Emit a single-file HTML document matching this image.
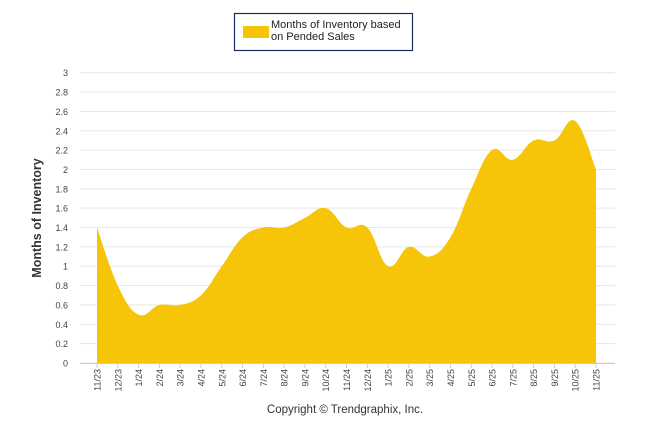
<!DOCTYPE html>
<html><head><meta charset="utf-8"><style>
body{margin:0;background:#fff;font-family:"Liberation Sans",sans-serif}
svg{display:block}
</style></head><body>
<svg id="c" width="646" height="434">
<g>
<rect x="234.5" y="13.5" width="178" height="37" fill="#fff" stroke="#1a2a5a" stroke-width="1.2"/>
<rect x="243" y="26" width="26" height="12" fill="#f6c509"/>
<text x="271" y="28" font-size="11" fill="#222">Months of Inventory based</text>
<text x="271" y="40" font-size="11" fill="#222">on Pended Sales</text>
</g>
<g id="grid"></g>
<path id="area" fill="#f6c509"/>
<g id="ticks"></g>
<text x="41" y="218" transform="rotate(-90 41 218)" text-anchor="middle" font-size="12.5" font-weight="bold" fill="#333">Months of Inventory</text>
<text x="345" y="413" text-anchor="middle" font-size="11.5" fill="#333">Copyright © Trendgraphix, Inc.</text>
</svg>
<script>
const categories=["11/23","12/23","1/24","2/24","3/24","4/24","5/24","6/24","7/24","8/24","9/24","10/24","11/24","12/24","1/25","2/25","3/25","4/25","5/25","6/25","7/25","8/25","9/25","10/25","11/25"];
const values=[1.4,0.8,0.5,0.6,0.6,0.7,1.0,1.3,1.4,1.4,1.5,1.6,1.4,1.4,1.0,1.2,1.1,1.3,1.8,2.2,2.1,2.3,2.3,2.5,2.0];
const yTicks=[0,0.2,0.4,0.6,0.8,1,1.2,1.4,1.6,1.8,2,2.2,2.4,2.6,2.8,3];
const NS="http://www.w3.org/2000/svg";
const x0=97,x1=596,y0=363,y1=72.7,yMax=3;
const X=i=>x0+i*(x1-x0)/(categories.length-1);
const Y=v=>y0-(v/yMax)*(y0-y1);
const grid=document.getElementById('grid'),ticks=document.getElementById('ticks');
function mk(t,a,p){const e=document.createElementNS(NS,t);for(const k in a)e.setAttribute(k,a[k]);p.appendChild(e);return e;}
yTicks.forEach(v=>{
 const l=mk('line',{x1:80,x2:615,y1:Y(v),y2:Y(v),stroke:'#e6e6e6','stroke-width':1},grid);
 
 
 const t=mk('text',{x:68,y:Y(v)+3.5,'text-anchor':'end','font-size':9,fill:'#444'},ticks);
 t.textContent=v;
 
 
});
mk('line',{x1:80,x2:615,y1:y0+0.5,y2:y0+0.5,stroke:'#ccc'},ticks);
categories.forEach((c,i)=>{
 mk('line',{x1:X(i),x2:X(i),y1:y0,y2:y0+5,stroke:'#ccc'},ticks);
 const t=mk('text',{x:0,y:0,'text-anchor':'end','font-size':9,fill:'#444',transform:`translate(${X(i)+3.5},${y0+6}) rotate(-90)`},ticks);
 t.textContent=c;
 
 
});
const pts=values.map((v,i)=>[X(i),Y(v)]);
let d=`M${pts[0][0]},${y0} L${pts[0][0]},${pts[0][1]}`;
for(let i=0;i<pts.length-1;i++){
 const p0=pts[Math.max(0,i-1)],p1=pts[i],p2=pts[i+1],p3=pts[Math.min(pts.length-1,i+2)];
 const k=0.2;
 d+=` C${p1[0]+(p2[0]-p0[0])*k},${p1[1]+(p2[1]-p0[1])*k} ${p2[0]-(p3[0]-p1[0])*k},${p2[1]-(p3[1]-p1[1])*k} ${p2[0]},${p2[1]}`;
}
d+=` L${pts[pts.length-1][0]},${y0} Z`;
document.getElementById('area').setAttribute('d',d);
</script>
</body></html>
